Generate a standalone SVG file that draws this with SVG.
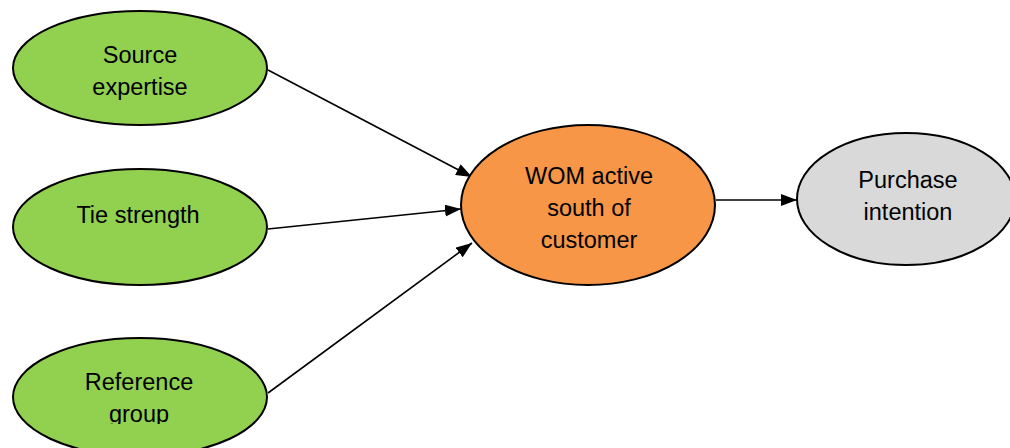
<svg xmlns="http://www.w3.org/2000/svg" width="1010" height="448" viewBox="0 0 1010 448">
<style>
.n{stroke:#000;stroke-width:2}
.g{fill:#92d050}
.t{font-family:"Liberation Sans",Arial,sans-serif;font-size:23.5px;fill:#000;text-anchor:middle}
.c{stroke:#000;stroke-width:1.6;fill:none;marker-end:url(#ah)}
</style>
<defs>
<marker id="ah" viewBox="0 0 16 12" refX="16" refY="6" markerWidth="16" markerHeight="12" markerUnits="userSpaceOnUse" orient="auto">
<path d="M0,0 L16,6 L0,12 Z" fill="#000"/>
</marker>
<clipPath id="clipRef"><rect x="0" y="340" width="300" height="84"/></clipPath>
</defs>
<g id="connectors">
<line class="c" x1="268" y1="70" x2="472" y2="177"/>
<line class="c" x1="268" y1="229" x2="461" y2="209"/>
<line class="c" x1="268" y1="393" x2="472" y2="243"/>
<line class="c" x1="716" y1="200" x2="797" y2="200"/>
</g>
<g id="source-expertise">
<ellipse class="n g" cx="140" cy="68" rx="127" ry="57"/>
<text class="t" x="140" y="63">Source</text>
<text class="t" x="140" y="95">expertise</text>
</g>
<g id="tie-strength">
<ellipse class="n g" cx="140" cy="227" rx="127" ry="58"/>
<text class="t" x="138" y="223">Tie strength</text>
</g>
<g id="reference-group">
<ellipse class="n g" cx="140" cy="397" rx="127" ry="59"/>
<g clip-path="url(#clipRef)">
<text class="t" x="139" y="390">Reference</text>
<text class="t" x="139" y="422">group</text>
</g>
</g>
<g id="wom">
<ellipse class="n" fill="#f79646" cx="588" cy="205" rx="127" ry="80"/>
<text class="t" x="589" y="184">WOM active</text>
<text class="t" x="589" y="216">south of</text>
<text class="t" x="589" y="248">customer</text>
</g>
<g id="purchase-intention">
<ellipse class="n" fill="#d9d9d9" cx="906" cy="199" rx="109" ry="66"/>
<text class="t" x="908" y="188">Purchase</text>
<text class="t" x="908" y="220">intention</text>
</g>
</svg>
